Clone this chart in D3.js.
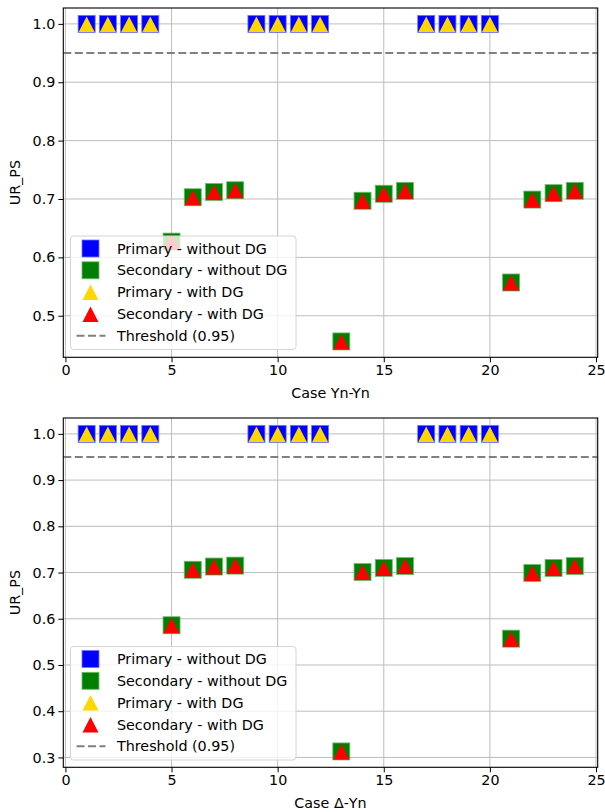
<!DOCTYPE html>
<html>
<head>
<meta charset="utf-8">
<script src="https://cdn.jsdelivr.net/npm/d3@7"></script>
<style>
  body { margin: 0; background: #fff; }
  text { font-family: "DejaVu Sans", sans-serif; fill: #000; }
</style>
</head>
<body>
<svg id="chart" width="605" height="812"></svg>
<script>
// case numbers on the x axis
const primaryCases = [1, 2, 3, 4, 9, 10, 11, 12, 17, 18, 19, 20];
const secondaryCases = [5, 6, 7, 8, 13, 14, 15, 16, 21, 22, 23, 24];

// Yn-Yn panel
const ynPrimaryNoDG = [1, 1, 1, 1, 1, 1, 1, 1, 1, 1, 1, 1];
const ynSecondaryNoDG = [0.627, 0.703, 0.712, 0.715, 0.456, 0.697, 0.709, 0.714, 0.557, 0.699, 0.710, 0.714];
const ynPrimaryDG = [1, 1, 1, 1, 1, 1, 1, 1, 1, 1, 1, 1];
const ynSecondaryDG = [0.627, 0.703, 0.712, 0.715, 0.456, 0.697, 0.709, 0.714, 0.557, 0.699, 0.710, 0.714];

// Δ-Yn panel
const dyPrimaryNoDG = [1, 1, 1, 1, 1, 1, 1, 1, 1, 1, 1, 1];
const dySecondaryNoDG = [0.586, 0.706, 0.713, 0.715, 0.313, 0.701, 0.710, 0.714, 0.557, 0.699, 0.710, 0.714];
const dyPrimaryDG = [1, 1, 1, 1, 1, 1, 1, 1, 1, 1, 1, 1];
const dySecondaryDG = [0.586, 0.706, 0.713, 0.715, 0.313, 0.701, 0.710, 0.714, 0.557, 0.699, 0.710, 0.714];

const threshold = 0.95;
const xTicks = [0, 5, 10, 15, 20, 25];
const ynTicks = [0.5, 0.6, 0.7, 0.8, 0.9, 1.0];
const dyTicks = [0.3, 0.4, 0.5, 0.6, 0.7, 0.8, 0.9, 1.0];
const legendLabels = ['Primary - without DG', 'Secondary - without DG', 'Primary - with DG', 'Secondary - with DG', 'Threshold (0.95)'];

const svg = d3.select('#chart');
const fs = 14.3;

function lighten(c) { return d3.interpolateRgb(c, '#ffffff')(0.45); }

function drawPanel(cfg) {
  const { top, bottom, left, right } = cfg.box;
  const g = svg.append('g');

  const allVals = [].concat(cfg.pNo, cfg.sNo, cfg.pDG, cfg.sDG);
  const lo = d3.min(allVals), hi = d3.max(allVals);
  const pad = (hi - lo) * 0.05;

  const x = d3.scaleLinear().domain([-0.1, 25.08]).range([left, right]);
  const y = d3.scaleLinear().domain([lo - pad, hi + pad]).range([bottom, top]);

  // grid
  g.append('g').selectAll('line').data(xTicks).join('line')
    .attr('x1', d => x(d)).attr('x2', d => x(d))
    .attr('y1', top).attr('y2', bottom)
    .attr('stroke', '#bdbdbd').attr('stroke-width', 1);
  g.append('g').selectAll('line').data(cfg.yTicks).join('line')
    .attr('x1', left).attr('x2', right)
    .attr('y1', d => y(d)).attr('y2', d => y(d))
    .attr('stroke', '#bdbdbd').attr('stroke-width', 1);

  // threshold
  g.append('line')
    .attr('x1', left).attr('x2', right)
    .attr('y1', y(threshold)).attr('y2', y(threshold))
    .attr('stroke', '#808080').attr('stroke-width', 2)
    .attr('stroke-dasharray', '8,3.5');

  const sq = 17;
  function squares(cases, vals, color) {
    g.append('g').selectAll('rect').data(cases.map((c, i) => [c, vals[i]])).join('rect')
      .attr('x', d => x(d[0]) - sq / 2).attr('y', d => y(d[1]) - sq / 2)
      .attr('width', sq).attr('height', sq)
      .attr('fill', color).attr('stroke', lighten(color)).attr('stroke-width', 0.8);
  }
  function triangles(cases, vals, color) {
    const h = 16, w = 16;
    g.append('g').selectAll('path').data(cases.map((c, i) => [c, vals[i]])).join('path')
      .attr('d', d => {
        const cx = x(d[0]), cy = y(d[1]);
        return `M${cx},${cy - h / 2 + 0.5}L${cx + w / 2},${cy + h / 2}L${cx - w / 2},${cy + h / 2}Z`;
      })
      .attr('fill', color);
  }
  squares(primaryCases, cfg.pNo, '#0000ff');
  squares(secondaryCases, cfg.sNo, '#008000');
  triangles(primaryCases, cfg.pDG, '#ffd700');
  triangles(secondaryCases, cfg.sDG, '#ff0000');

  // axes
  const xAxis = g.append('g').attr('transform', `translate(0,${bottom})`)
    .call(d3.axisBottom(x).tickValues(xTicks).tickSize(5).tickPadding(3).tickFormat(d3.format('d')));
  const yAxis = g.append('g').attr('transform', `translate(${left},0)`)
    .call(d3.axisLeft(y).tickValues(cfg.yTicks).tickSize(5).tickPadding(3).tickFormat(d3.format('.1f')));
  [xAxis, yAxis].forEach(a => {
    a.select('.domain').remove();
    a.selectAll('line').attr('stroke', '#000').attr('stroke-width', 1);
    a.selectAll('text').attr('font-size', fs).attr('font-family', 'DejaVu Sans').attr('fill', '#000');
  });

  // frame
  g.append('rect').attr('x', left).attr('y', top)
    .attr('width', right - left).attr('height', bottom - top)
    .attr('fill', 'none').attr('stroke', '#000').attr('stroke-width', 1.1);

  g.append('text').attr('x', (left + right) / 2).attr('y', bottom + 41)
    .attr('text-anchor', 'middle').attr('font-size', fs).text(cfg.xLabel);
  g.append('text')
    .attr('transform', `translate(20,${(top + bottom) / 2}) rotate(-90)`)
    .attr('text-anchor', 'middle').attr('font-size', fs).text('UR_PS');

  // legend
  const lg = g.append('g').attr('transform', `translate(70.5,${cfg.legendTop})`);
  lg.append('rect').attr('width', 225.5).attr('height', 113.5).attr('rx', 3)
    .attr('fill', '#fff').attr('fill-opacity', 0.8)
    .attr('stroke', '#d4d4d4').attr('stroke-width', 1);
  const rowY = i => 12.5 + i * 21.8;
  const colors = ['#0000ff', '#008000', '#ffd700', '#ff0000'];
  legendLabels.forEach((lab, i) => {
    const cy = rowY(i);
    if (i < 2) {
      lg.append('rect').attr('x', 20 - sq / 2).attr('y', cy - sq / 2).attr('width', sq).attr('height', sq)
        .attr('fill', colors[i]).attr('stroke', lighten(colors[i])).attr('stroke-width', 0.8);
    } else if (i < 4) {
      lg.append('path')
        .attr('d', `M20,${cy - 7.5}L28,${cy + 8}L12,${cy + 8}Z`)
        .attr('fill', colors[i]);
    } else {
      lg.append('line').attr('x1', 6).attr('x2', 35).attr('y1', cy).attr('y2', cy)
        .attr('stroke', '#808080').attr('stroke-width', 2).attr('stroke-dasharray', '8,3.5');
    }
    lg.append('text').attr('x', 46.5).attr('y', cy).attr('dy', '0.36em')
      .attr('font-size', fs).text(lab);
  });
}

drawPanel({
  box: { top: 8, bottom: 357.3, left: 63.3, right: 597.7 },
  pNo: ynPrimaryNoDG, sNo: ynSecondaryNoDG, pDG: ynPrimaryDG, sDG: ynSecondaryDG,
  yTicks: ynTicks, xLabel: 'Case Yn-Yn', legendTop: 236
});

drawPanel({
  box: { top: 418, bottom: 767.3, left: 63.3, right: 597.7 },
  pNo: dyPrimaryNoDG, sNo: dySecondaryNoDG, pDG: dyPrimaryDG, sDG: dySecondaryDG,
  yTicks: dyTicks, xLabel: 'Case Δ-Yn', legendTop: 646.5
});
</script>
</body>
</html>
